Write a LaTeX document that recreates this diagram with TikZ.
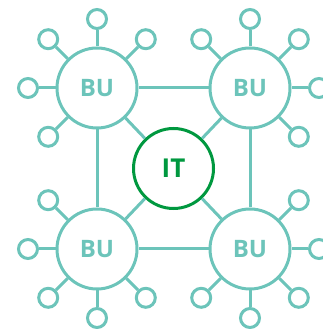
\documentclass[tikz,border=0pt]{standalone}
\usepackage{fontspec}
\setsansfont{Open Sans}
\usepackage{tikz}

\definecolor{buteal}{RGB}{108,196,186}
\definecolor{itgreen}{RGB}{0,152,63}

\begin{document}
\begin{tikzpicture}[x=1pt,y=1pt,node distance=69pt]
  \tikzstyle{unit}=[circle,line width=3pt,draw=buteal,text=buteal,
  		    minimum size=80pt,inner sep=0pt,
  		    font=\sffamily\bfseries\fontsize{24}{24}\selectfont]
  \tikzstyle{core}=[unit,draw=itgreen,text=itgreen,
  		    font=\sffamily\bfseries\fontsize{26}{26}\selectfont]
  \tikzstyle{leaf}=[circle,line width=3pt,draw=buteal,minimum size=19pt,inner sep=0pt]
  \tikzstyle{spoke}=[line width=3pt,draw=buteal]

  \useasboundingbox (0,0) rectangle (322,329);

  \node [core] (it) at (173.5,160.5) {IT};

  % top left
  \begin{scope}
    \node [unit] (bu1) at (97,241) {BU};
    \node [leaf] (a1) [above of=bu1] {} edge [spoke] (bu1);
    \node [leaf] (a2) [above left of=bu1] {} edge [spoke] (bu1);
    \node [leaf] (a3) [above right of=bu1] {} edge [spoke] (bu1);
    \node [leaf] (a4) [left of=bu1] {} edge [spoke] (bu1);
    \node [leaf] (a5) [below left of=bu1] {} edge [spoke] (bu1);
  \end{scope}

  % top right
  \begin{scope}
    \node [unit] (bu2) at (250,241) {BU};
    \node [leaf] (b1) [above of=bu2] {} edge [spoke] (bu2);
    \node [leaf] (b2) [above left of=bu2] {} edge [spoke] (bu2);
    \node [leaf] (b3) [above right of=bu2] {} edge [spoke] (bu2);
    \node [leaf] (b4) [right of=bu2] {} edge [spoke] (bu2);
    \node [leaf] (b5) [below right of=bu2] {} edge [spoke] (bu2);
  \end{scope}

  % bottom left
  \begin{scope}
    \node [unit] (bu3) at (97,80) {BU};
    \node [leaf] (c1) [above left of=bu3] {} edge [spoke] (bu3);
    \node [leaf] (c2) [left of=bu3] {} edge [spoke] (bu3);
    \node [leaf] (c3) [below left of=bu3] {} edge [spoke] (bu3);
    \node [leaf] (c4) [below of=bu3] {} edge [spoke] (bu3);
    \node [leaf] (c5) [below right of=bu3] {} edge [spoke] (bu3);
  \end{scope}

  % bottom right
  \begin{scope}
    \node [unit] (bu4) at (250,80) {BU};
    \node [leaf] (d1) [above right of=bu4] {} edge [spoke] (bu4);
    \node [leaf] (d2) [right of=bu4] {} edge [spoke] (bu4);
    \node [leaf] (d3) [below right of=bu4] {} edge [spoke] (bu4);
    \node [leaf] (d4) [below of=bu4] {} edge [spoke] (bu4);
    \node [leaf] (d5) [below left of=bu4] {} edge [spoke] (bu4);
  \end{scope}

  % square and links to the centre
  \draw [spoke] (bu1) -- (bu2);
  \draw [spoke] (bu1) -- (bu3);
  \draw [spoke] (bu2) -- (bu4);
  \draw [spoke] (bu3) -- (bu4);
  \foreach \u in {bu1,bu2,bu3,bu4}
    \draw [spoke] (it) -- (\u);
\end{tikzpicture}
\end{document}
